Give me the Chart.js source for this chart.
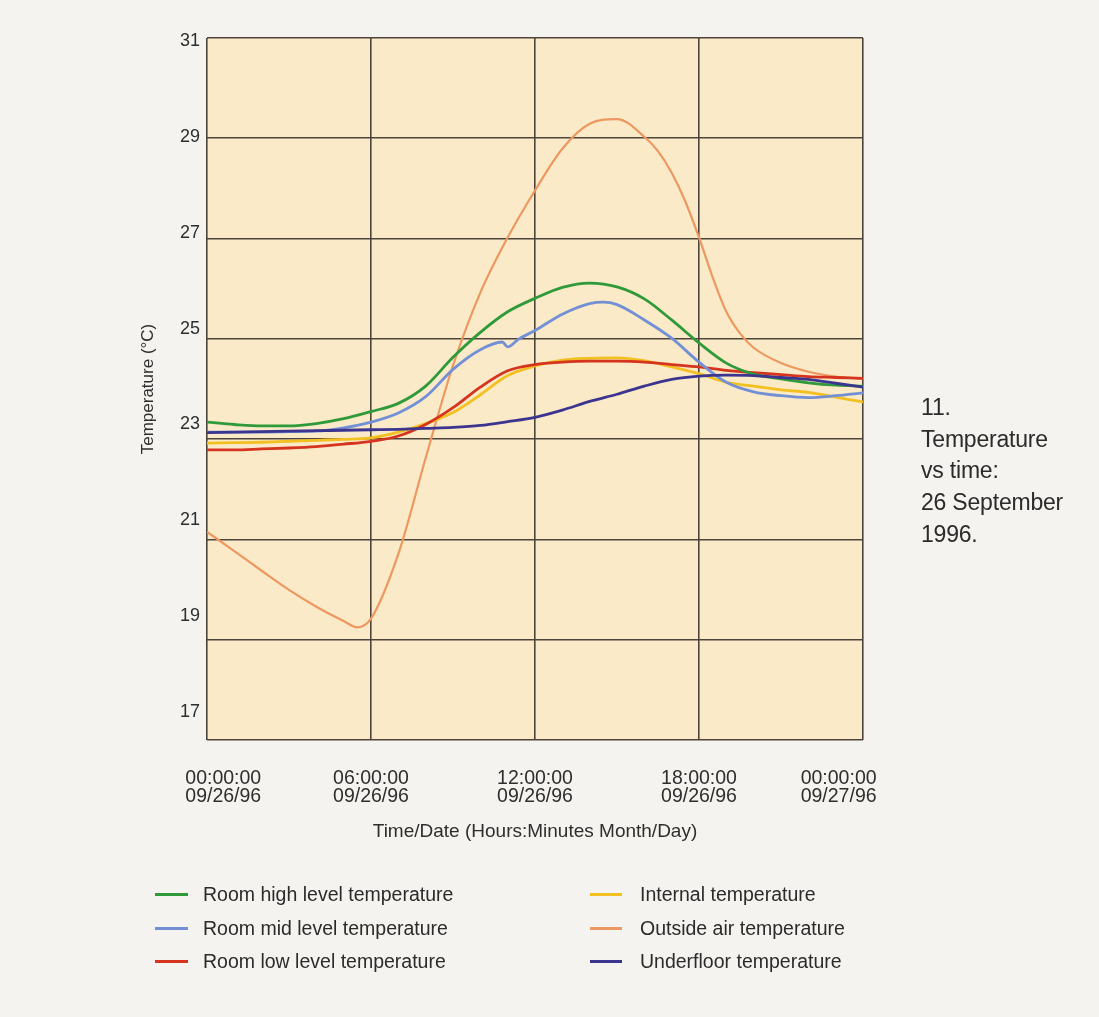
<!DOCTYPE html>
<html>
<head>
<meta charset="utf-8">
<script src="https://cdn.jsdelivr.net/npm/chart.js@4.4.0/dist/chart.umd.min.js"></script>
<style>
body{
	margin: 0;
	background: #f4f3ef;
	font-family: "Liberation Sans", Arial, sans-serif;
	color: #2b2b2b;
}
#wrap{ position: relative; width: 1099px; height: 1017px; overflow: hidden; }
#chart-holder{ position: absolute; left: 0; top: 0; width: 1099px; height: 1017px; }
#caption{
	position: absolute; left: 921px; top: 392px;
	font-size: 23px; line-height: 31.7px; letter-spacing: -0.2px;
}
.leg{ position: absolute; font-size: 19.5px; height: 20px; line-height: 20px; white-space: nowrap; }
.leg span{ position: absolute; top: 9px; height: 3px; }
</style>
</head>
<body>
<div id="wrap">
	<div id="chart-holder"><canvas id="chart-area"></canvas></div>
	<div id="caption">11.<br>Temperature<br>vs time:<br>26 September<br>1996.</div>
	<div id="js-legend"></div>
</div>

<script>
// hours since 00:00 on 09/26/96
var hours = [0,1,2,3,4,5,6,7,8,9,10,11,12,13,14,15,16,17,18,19,20,21,22,23,24];

var roomHigh = [23.05,23.0,22.97,22.97,23.02,23.12,23.27,23.44,23.8,24.4,24.92,25.35,25.63,25.86,25.95,25.87,25.62,25.18,24.7,24.28,24.05,23.95,23.87,23.82,23.8];

var midHours = [0,1,2,3,4,5,6,7,8,9,10,10.8,11,11.4,12,13,14,14.5,15,16,17,18,19,20,21,22,23,24];
var roomMid = [22.84,22.84,22.84,22.85,22.86,22.93,23.05,23.24,23.58,24.15,24.56,24.72,24.62,24.78,24.96,25.3,25.52,25.55,25.5,25.18,24.8,24.3,23.88,23.68,23.6,23.56,23.6,23.66];

var roomLow = [22.47,22.47,22.49,22.51,22.54,22.59,22.65,22.76,23.0,23.35,23.78,24.12,24.25,24.3,24.32,24.32,24.3,24.25,24.2,24.13,24.08,24.04,24.0,23.98,23.96];

var internal = [22.61,22.62,22.63,22.65,22.67,22.69,22.72,22.84,23.02,23.25,23.62,24.02,24.22,24.34,24.38,24.39,24.33,24.2,24.06,23.88,23.8,23.72,23.67,23.57,23.47];

var outsideHours = [0,1,2,3,4,5,5.5,6,7,8,9,10,11,12,13,14,15,16,16.5,17,17.5,18,18.5,19,19.5,20,21,22,23,24];
var outside = [20.76,20.36,19.95,19.55,19.2,18.9,18.77,18.95,20.3,22.3,24.23,25.75,26.9,27.88,28.75,29.27,29.37,29.0,28.7,28.25,27.65,26.9,26.07,25.35,24.9,24.6,24.28,24.1,24.0,23.95];

var underfloor = [22.83,22.84,22.85,22.86,22.87,22.88,22.89,22.9,22.92,22.94,22.98,23.06,23.15,23.3,23.48,23.63,23.8,23.94,24.01,24.03,24.02,23.98,23.94,23.86,23.78];

var yTicks = [17,19,21,23,25,27,29,31];
var xTicks = [0,6,12,18,24];
var xTickLabels = [
	['00:00:00','09/26/96'],
	['06:00:00','09/26/96'],
	['12:00:00','09/26/96'],
	['18:00:00','09/26/96'],
	['00:00:00','09/27/96']
];

function pts(xs, ys){
	return ys.map(function(v, i){ return {x: xs[i], y: v}; });
}

var series = [
	{label: 'Room high level temperature', data: pts(hours, roomHigh), color: '#2f9a3a', order: 2},
	{label: 'Room mid level temperature', data: pts(midHours, roomMid), color: '#7390d6', order: 3},
	{label: 'Room low level temperature', data: pts(hours, roomLow), color: '#d5341f', order: 4},
	{label: 'Internal temperature', data: pts(hours, internal), color: '#f2c021', order: 5},
	{label: 'Outside air temperature', data: pts(outsideHours, outside), color: '#ec9860', order: 6},
	{label: 'Underfloor temperature', data: pts(hours, underfloor), color: '#3b3590', order: 1}
];

var plotBackground = {
	id: 'plotBackground',
	beforeDraw: function(chart){
		var a = chart.chartArea, c = chart.ctx;
		c.save();
		c.fillStyle = '#fbeac8';
		c.fillRect(a.left, a.top, a.right - a.left, a.bottom - a.top);
		c.restore();
	}
};

var gridColor = '#4d443c';
var textColor = '#2e2e2e';
var fontFamily = '"Liberation Sans", Arial, sans-serif';

var config = {
	type: 'line',
	data: {
		datasets: series.map(function(s){
			return {
				label: s.label,
				data: s.data,
				borderColor: s.color,
				backgroundColor: s.color,
				borderWidth: s.label === 'Outside air temperature' ? 2.2 : 2.8,
				pointRadius: 0,
				cubicInterpolationMode: 'monotone',
				order: s.order,
				yAxisID: 'y'
			};
		})
	},
	options: {
		responsive: true,
		maintainAspectRatio: false,
		animation: false,
		layout: { padding: { left: 135, right: 236, top: 38, bottom: 167 } },
		plugins: { legend: { display: false }, tooltip: { enabled: false } },
		scales: {
			x: {
				type: 'linear',
				min: 0,
				max: 24,
				afterBuildTicks: function(s){ s.ticks = xTicks.map(function(v){ return {value: v}; }); },
				afterFit: function(s){ s.height = 110; },
				grid: { color: gridColor, lineWidth: 1.6, drawTicks: false },
				border: { display: false },
				ticks: {
					autoSkip: false,
					maxRotation: 0,
					padding: 29,
					color: textColor,
					font: { family: fontFamily, size: 19.5, lineHeight: 0.95 },
					callback: function(v, i, all){
						// end labels sit inside the frame, as in the print
						var pad = i === 0 ? '      ' : '';
						var tail = i === all.length - 1 ? '         ' : '';
						return xTickLabels[i].map(function(t){ return pad + t + tail; });
					}
				},
				title: {
					display: true,
					text: 'Time/Date (Hours:Minutes Month/Day)',
					color: textColor,
					font: { family: fontFamily, size: 19 },
					padding: { top: 4, bottom: 7 }
				}
			},
			y: {
				type: 'linear',
				position: 'left',
				min: 16.42,
				max: 31.06,
				afterBuildTicks: function(s){ s.ticks = yTicks.map(function(v){ return {value: v}; }); },
				afterFit: function(s){ s.width = 72; },
				grid: { display: false, drawTicks: false },
				border: { display: false },
				ticks: {
					padding: 7,
					color: textColor,
					font: { family: fontFamily, size: 18 }
				},
				title: {
					display: true,
					text: 'Temperature (°C)',
					color: textColor,
					font: { family: fontFamily, size: 17 },
					padding: { top: 3, bottom: 0 }
				}
			},
			yGrid: {
				type: 'linear',
				position: 'right',
				min: 17,
				max: 31,
				ticks: { display: false, stepSize: 2 },
				afterFit: function(s){ s.width = 0; },
				grid: { color: gridColor, lineWidth: 1.6, drawTicks: false },
				border: { display: false }
			}
		}
	},
	plugins: [plotBackground]
};

window.onload = function(){
	var ctx = document.getElementById('chart-area').getContext('2d');
	var chart = new Chart(ctx, config);

	// two-column legend, three rows each
	var html = '';
	var rowTop = [884, 918, 951];
	var sampleLeft = [155, 590], sampleWidth = [33, 32], textLeft = [203, 640];
	chart.data.datasets.forEach(function(d, i){
		var col = Math.floor(i / 3), row = i % 3;
		html += "<div class='leg' style='left:" + textLeft[col] + "px;top:" + rowTop[row] + "px'>" +
			"<span style='left:" + (sampleLeft[col] - textLeft[col]) + "px;width:" + sampleWidth[col] +
			"px;background:" + d.borderColor + "'></span>" + d.label + "</div>";
	});
	document.getElementById('js-legend').innerHTML = html;
};
</script>
</body>
</html>
